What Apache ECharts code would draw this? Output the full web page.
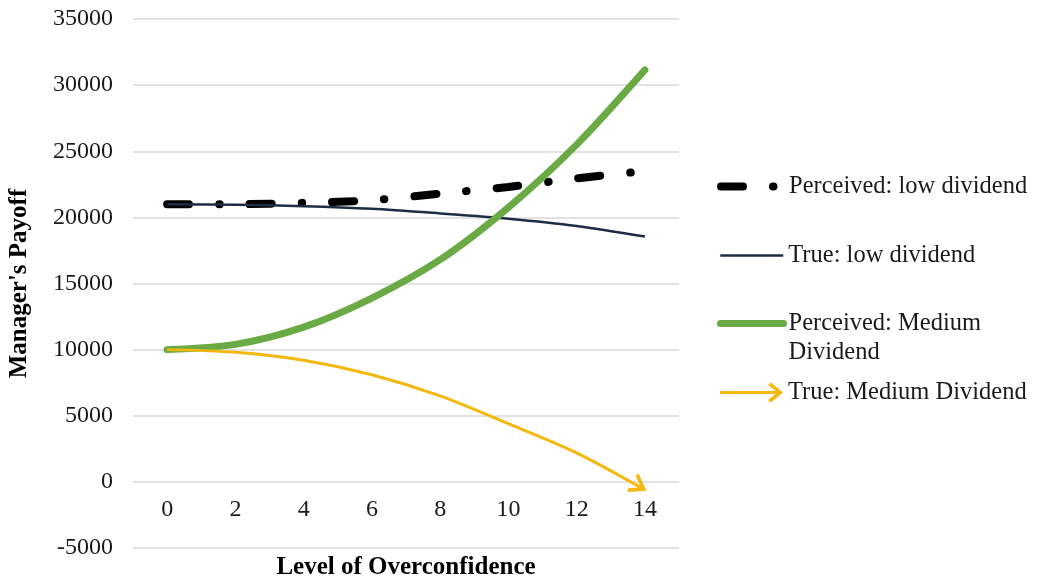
<!DOCTYPE html>
<html>
<head>
<meta charset="utf-8">
<script src="https://cdn.jsdelivr.net/npm/echarts@6/dist/echarts.min.js"></script>
<style>html,body{margin:0;padding:0;background:#fff;}#c{width:1038px;height:582px;}</style>
</head>
<body>
<div id="c"></div>
<script>
const categories = ['0', '2', '4', '6', '8', '10', '12', '14'];
const perceivedLow = [21000, 21000, 21100, 21300, 21800, 22300, 22950, 23500];
const trueLow = [21000, 20950, 20850, 20650, 20300, 19900, 19350, 18550];
const perceivedMedium = [10000, 10400, 11700, 13900, 16800, 20750, 25500, 31150];
const trueMedium = [10000, 9800, 9200, 8100, 6500, 4400, 2200, -600];
const seriesNames = ['Perceived: low dividend', 'True: low dividend', 'Perceived: Medium Dividend', 'True: Medium Dividend'];

const FONT = '"Liberation Serif", "Times New Roman", serif';
const ORANGE = '#F5B80F';

const chart = echarts.init(document.getElementById('c'), null, {renderer: 'canvas'});

const arrowAngle = -31;
const rad = arrowAngle * Math.PI / 180;
const arrowLen = 8;
const trueMediumData = trueMedium.map((v, i) => {
  if (i === trueMedium.length - 1) {
    return {
      value: v,
      symbol: 'path://M0,0 L10,7 L0,14',
      symbolSize: [13, 18],
      symbolRotate: arrowAngle,
      symbolOffset: [-arrowLen * Math.cos(rad), arrowLen * Math.sin(rad)],
      itemStyle: {color: 'none', borderColor: ORANGE, borderWidth: 3.5}
    };
  }
  return v;
});

const legendBase = {
  orient: 'vertical',
  itemWidth: 63,
  itemHeight: 20,
  selectedMode: false,
  itemStyle: {color: 'transparent', borderColor: 'transparent', borderWidth: 0},
  textStyle: {fontFamily: FONT, fontSize: 24.5, color: '#1a1a1a', lineHeight: 29}
};

const option = {
  backgroundColor: '#fff',
  animation: false,
  grid: {left: 133, right: 359, top: 19, bottom: 34, containLabel: false, outerBoundsMode: 'none'},
  xAxis: {
    type: 'category',
    data: categories,
    boundaryGap: true,
    position: 'bottom',
    offset: -65,
    name: "Level of Overconfidence",
    nameLocation: 'middle',
    nameGap: 72,
    nameTextStyle: {fontFamily: FONT, fontSize: 25, fontWeight: 'bold', color: '#000'},
    axisLine: {show: false},
    axisTick: {show: false},
    axisLabel: {fontFamily: FONT, fontSize: 24, color: '#1a1a1a', margin: 15}
  },
  yAxis: {
    type: 'value',
    min: -5000,
    max: 35000,
    interval: 5000,
    name: "Manager's Payoff",
    nameLocation: 'middle',
    nameGap: 101,
    nameTextStyle: {fontFamily: FONT, fontSize: 25, fontWeight: 'bold', color: '#000'},
    axisLine: {show: false},
    axisTick: {show: false},
    axisLabel: {fontFamily: FONT, fontSize: 24, color: '#1a1a1a', margin: 20, formatter: v => String(v)},
    splitLine: {lineStyle: {color: '#d9d9d9', width: 1.5}}
  },
  legend: [
    Object.assign({}, legendBase, {left: 712, top: 167, data: [seriesNames[0]], lineStyle: {width: 8}}),
    Object.assign({}, legendBase, {left: 714, top: 236, data: [seriesNames[1]], lineStyle: {width: 2.5}}),
    Object.assign({}, legendBase, {left: 712, top: 275, data: [seriesNames[2]], lineStyle: {width: 7},
      formatter: () => '\u00a0\nPerceived: Medium\nDividend'}),
    Object.assign({}, legendBase, {left: 715, top: 373, data: [{name: seriesNames[3],
      itemStyle: {color: ORANGE, borderColor: ORANGE, borderWidth: 0},
      icon: 'path://M0,8.5 L57,8.5 L57,11.5 L0,11.5 Z M48,2.5 L51,0 L63,10 L51,20 L48,17.5 L57.5,10 Z'}]})
  ],
  series: [
    {
      name: seriesNames[0], type: 'line', data: perceivedLow, smooth: 0.3,
      symbol: 'none', color: '#000',
      lineStyle: {color: '#000', width: 8, type: [22, 30, 0.5, 30], cap: 'round'}
    },
    {
      name: seriesNames[1], type: 'line', data: trueLow, smooth: 0.3,
      symbol: 'none', color: '#1f2c45',
      lineStyle: {color: '#1f2c45', width: 2.5}
    },
    {
      name: seriesNames[2], type: 'line', data: perceivedMedium, smooth: 0.3,
      symbol: 'none', color: '#6aaa45',
      lineStyle: {color: '#6aaa45', width: 7, cap: 'round'}
    },
    {
      name: seriesNames[3], type: 'line', data: trueMediumData, smooth: 0.3,
      symbol: 'none', showSymbol: true, color: ORANGE,
      lineStyle: {color: ORANGE, width: 3}
    }
  ]
};
chart.setOption(option);
</script>
</body>
</html>
